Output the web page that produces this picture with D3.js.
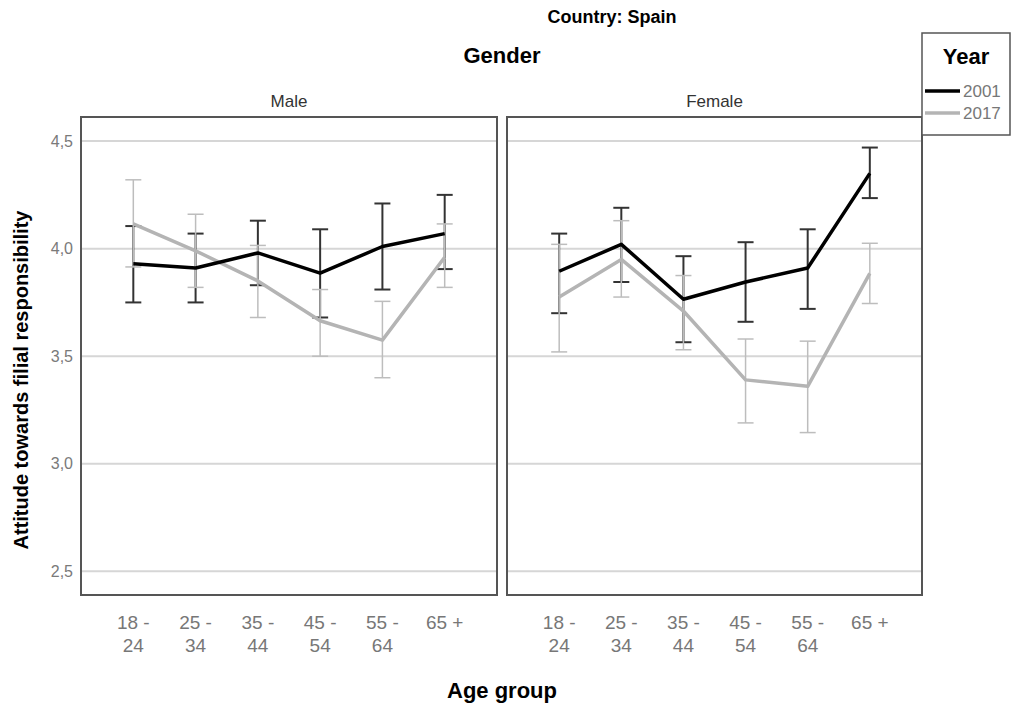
<!DOCTYPE html>
<html>
<head>
<meta charset="utf-8">
<script src="https://cdn.jsdelivr.net/npm/d3@7"></script>
<style>
  body { margin: 0; background: #fff; }
  text { font-family: "Liberation Sans", Arial, sans-serif; }
</style>
</head>
<body>
<div id="chart"></div>
<script>
// Data
const ageGroups = ["18 - 24", "25 - 34", "35 - 44", "45 - 54", "55 - 64", "65 +"];
const genders = ["Male", "Female"];
const years = ["2001", "2017"];

// means and 95% CI bounds
const male2001 = [3.93, 3.91, 3.98, 3.886, 4.01, 4.07];
const male2001Low = [3.75, 3.75, 3.83, 3.68, 3.81, 3.905];
const male2001High = [4.105, 4.07, 4.13, 4.09, 4.21, 4.25];

const male2017 = [4.115, 3.99, 3.85, 3.665, 3.575, 3.96];
const male2017Low = [3.915, 3.82, 3.68, 3.5, 3.4, 3.82];
const male2017High = [4.32, 4.16, 4.015, 3.81, 3.755, 4.115];

const female2001 = [3.895, 4.02, 3.765, 3.845, 3.91, 4.35];
const female2001Low = [3.7, 3.845, 3.565, 3.66, 3.72, 4.235];
const female2001High = [4.07, 4.19, 3.965, 4.03, 4.09, 4.47];

const female2017 = [3.775, 3.95, 3.71, 3.39, 3.36, 3.885];
const female2017Low = [3.52, 3.775, 3.53, 3.19, 3.145, 3.745];
const female2017High = [4.02, 4.13, 3.875, 3.58, 3.57, 4.025];

const yTicks = [2.5, 3.0, 3.5, 4.0, 4.5];

// Build series per panel
const panels = [
  {
    gender: genders[0],
    series: [
      { year: "2001", mean: male2001, low: male2001Low, high: male2001High },
      { year: "2017", mean: male2017, low: male2017Low, high: male2017High },
    ],
  },
  {
    gender: genders[1],
    series: [
      { year: "2001", mean: female2001, low: female2001Low, high: female2001High },
      { year: "2017", mean: female2017, low: female2017Low, high: female2017High },
    ],
  },
];

// Dimensions
const width = 1020;
const height = 709;
const panelTop = 117;
const panelBottom = 595;
const panelX = [[81, 497], [507, 922]];

const lineColor = { "2001": "#000", "2017": "#b4b4b4" };
const barColor = { "2001": "#333", "2017": "#bdbdbd" };
const barWidth = { "2001": 2, "2017": 1.5 };

const formatTick = (d) => d3.format(".1f")(d).replace(".", ",");

// Scales
const yScale = d3.scaleLinear().domain([2.39, 4.612]).range([panelBottom, panelTop]);

const svg = d3.select("#chart").append("svg").attr("width", width).attr("height", height);

// Titles
svg.append("text")
  .attr("x", 612).attr("y", 23)
  .attr("text-anchor", "middle")
  .attr("font-weight", "bold").attr("font-size", 18)
  .text("Country: Spain");

svg.append("text")
  .attr("x", 502).attr("y", 63)
  .attr("text-anchor", "middle")
  .attr("font-weight", "bold").attr("font-size", 22)
  .text("Gender");

svg.append("text")
  .attr("x", 502).attr("y", 698)
  .attr("text-anchor", "middle")
  .attr("font-weight", "bold").attr("font-size", 22)
  .text("Age group");

svg.append("text")
  .attr("transform", "translate(28,380) rotate(-90)")
  .attr("text-anchor", "middle")
  .attr("font-weight", "bold").attr("font-size", 20)
  .text("Attitude towards filial responsibility");

// Y axis labels
const yAxisG = svg.append("g")
  .attr("transform", "translate(81,0)")
  .call(d3.axisLeft(yScale).tickValues(yTicks).tickFormat(formatTick).tickSize(0).tickPadding(8));
yAxisG.select(".domain").remove();
yAxisG.selectAll("text")
  .attr("fill", "#7a7a7a")
  .attr("font-size", 16)
  .attr("font-family", "Liberation Sans, Arial, sans-serif");

// Panels
panels.forEach((panel, i) => {
  const [x0, x1] = panelX[i];
  const xScale = d3.scalePoint().domain(ageGroups).range([x0, x1]).padding(0.84);
  const g = svg.append("g").attr("class", "panel");

  // Gridlines
  g.selectAll("line.grid")
    .data(yTicks)
    .join("line")
    .attr("class", "grid")
    .attr("x1", x0).attr("x2", x1)
    .attr("y1", (d) => yScale(d)).attr("y2", (d) => yScale(d))
    .attr("stroke", "#d6d6d6").attr("stroke-width", 2);

  // Panel title
  svg.append("text")
    .attr("x", (x0 + x1) / 2).attr("y", 107)
    .attr("text-anchor", "middle")
    .attr("font-size", 17).attr("fill", "#333")
    .text(panel.gender);

  // Error bars
  panel.series.forEach((s) => {
    const bars = g.append("g").attr("class", "bars-" + s.year)
      .attr("stroke", barColor[s.year])
      .attr("stroke-width", barWidth[s.year]);
    ageGroups.forEach((a, j) => {
      const x = xScale(a);
      bars.append("line")
        .attr("x1", x).attr("x2", x)
        .attr("y1", yScale(s.low[j])).attr("y2", yScale(s.high[j]));
      [s.low[j], s.high[j]].forEach((v) => {
        bars.append("line")
          .attr("x1", x - 8).attr("x2", x + 8)
          .attr("y1", yScale(v)).attr("y2", yScale(v));
      });
    });
  });

  // Lines (2017 first so 2001 on top)
  const line = d3.line()
    .x((d, j) => xScale(ageGroups[j]))
    .y((d) => yScale(d));
  [panel.series[1], panel.series[0]].forEach((s) => {
    g.append("path")
      .attr("d", line(s.mean))
      .attr("fill", "none")
      .attr("stroke", lineColor[s.year])
      .attr("stroke-width", 3.5)
      .attr("stroke-linejoin", "round");
  });

  // Panel frame
  g.append("rect")
    .attr("x", x0).attr("y", panelTop)
    .attr("width", x1 - x0).attr("height", panelBottom - panelTop)
    .attr("fill", "none").attr("stroke", "#555").attr("stroke-width", 2);

  // X tick labels (two lines)
  const tick = svg.append("g").selectAll("text")
    .data(ageGroups)
    .join("text")
    .attr("text-anchor", "middle")
    .attr("fill", "#777")
    .attr("font-size", 19)
    .attr("transform", (d) => `translate(${xScale(d)},629)`);
  tick.each(function (d) {
    const parts = d === "65 +" ? ["65 +"] : [d.split(" - ")[0] + " -", d.split(" - ")[1]];
    d3.select(this).selectAll("tspan")
      .data(parts)
      .join("tspan")
      .attr("x", 0)
      .attr("dy", (p, k) => (k === 0 ? 0 : 23))
      .text((p) => p);
  });
});

// Legend
const legend = svg.append("g").attr("class", "legend");
legend.append("rect")
  .attr("x", 922).attr("y", 33).attr("width", 88).attr("height", 102)
  .attr("fill", "#fff").attr("stroke", "#555").attr("stroke-width", 1.5);
legend.append("text")
  .attr("x", 966).attr("y", 64)
  .attr("text-anchor", "middle")
  .attr("font-weight", "bold").attr("font-size", 22)
  .text("Year");
const legendItem = legend.selectAll("g.item")
  .data(years)
  .join("g")
  .attr("class", "item")
  .attr("transform", (d, i) => `translate(925,${91 + i * 22})`);
legendItem.append("line")
  .attr("x1", 0).attr("x2", 35)
  .attr("stroke", (d) => lineColor[d])
  .attr("stroke-width", 3.5);
legendItem.append("text")
  .attr("x", 38).attr("y", 6)
  .attr("font-size", 17).attr("fill", "#777")
  .text((d) => d);
</script>
</body>
</html>
